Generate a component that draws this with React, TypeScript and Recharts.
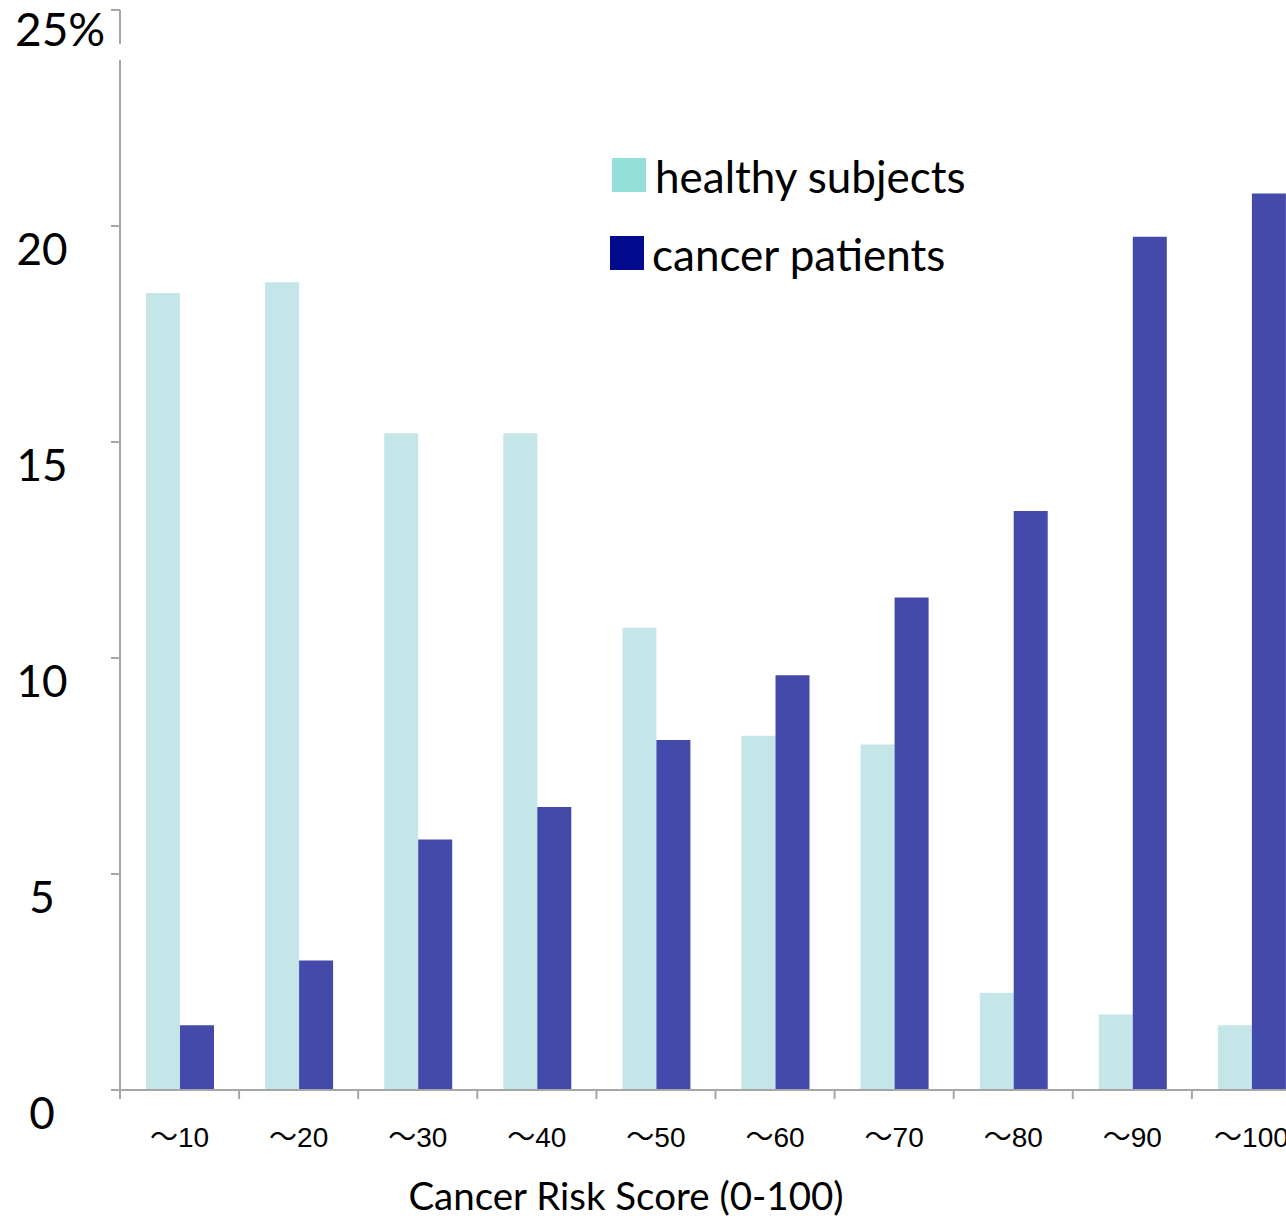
import React from 'react';
import { BarChart, Bar, XAxis, YAxis, Legend } from 'recharts';

const categories = ['～10', '～20', '～30', '～40', '～50', '～60', '～70', '～80', '～90', '～100'];
const healthySubjects = [18.45, 18.7, 15.2, 15.2, 10.7, 8.2, 8.0, 2.25, 1.75, 1.5];
const cancerPatients = [1.5, 3.0, 5.8, 6.55, 8.1, 9.6, 11.4, 13.4, 19.75, 20.75];
const yTicks = [0, 5, 10, 15, 20, 25];
const legendItems = [
  { label: 'healthy subjects', color: '#93e0da' },
  { label: 'cancer patients', color: '#020a8e' },
];
const xTitle = 'Cancer Risk Score (0-100)';

const data = categories.map((c, i) => ({
  category: c,
  healthy: healthySubjects[i],
  cancer: cancerPatients[i],
}));

const AXIS = '#a6a6a6';
const LEFT = 120;
const CHART_W = 1311;
const BAND = (CHART_W - LEFT) / categories.length;
const TEXT_FONT = 'Lato, "Open Sans", sans-serif';

const YTick = (props: any) => {
  const { y, payload } = props;
  const v = payload.value;
  if (v === 25) {
    return (
      <g>
        <rect x={114} y={y + 34} width={12} height={16} fill="#fff" />
        <text x={15} y={y + 18} dominantBaseline="central" fontFamily={TEXT_FONT} fontSize={46} fill="#000">
          25%
        </text>
      </g>
    );
  }
  return (
    <text x={42} y={y + 22} textAnchor="middle" dominantBaseline="central" fontFamily={TEXT_FONT} fontSize={44} fill="#000">
      {v}
    </text>
  );
};

const XTick = (props: any) => {
  const { x, payload } = props;
  const bx = x - BAND / 2;
  return (
    <g>
      <line x1={bx} x2={bx} y1={1090} y2={1099} stroke={AXIS} strokeWidth={2} />
      <text
        x={x}
        y={1137}
        textAnchor="middle"
        dominantBaseline="central"
        fontFamily='"Liberation Sans", "Noto Sans CJK JP", sans-serif'
        fontSize={28}
        fill="#000"
      >
        {payload.value}
      </text>
    </g>
  );
};

const LegendContent = () => (
  <div style={{ fontFamily: TEXT_FONT, fontSize: 44, color: '#000' }}>
    {legendItems.map((it, i) => (
      <div key={it.label} style={{ display: 'flex', alignItems: 'center', height: 78, marginLeft: i === 0 ? 2 : 0 }}>
        <div style={{ width: 34, height: 34, background: it.color, marginRight: i === 0 ? 9 : 8 }} />
        <span style={{ lineHeight: '44px', position: 'relative', top: 1 }}>{it.label}</span>
      </div>
    ))}
  </div>
);

const XTitle = () => (
  <text x={626} y={1195} textAnchor="middle" dominantBaseline="central" fontFamily={TEXT_FONT} fontSize={38.5} fill="#000">
    {xTitle}
  </text>
);

export default function App() {
  return (
    <div style={{ position: 'absolute', left: 0, top: 0, width: 1286, height: 1216, overflow: 'hidden', background: '#fff' }}>
      <BarChart
        width={CHART_W}
        height={1216}
        data={data}
        margin={{ top: 10, right: 0, bottom: 0, left: 0 }}
        barSize={34}
        barGap={0}
      >
        <XAxis
          dataKey="category"
          height={126}
          axisLine={{ stroke: AXIS, strokeWidth: 2 }}
          tickLine={false}
          tick={<XTick />}
          interval={0}
          label={{ content: () => <XTitle /> }}
        />
        <YAxis
          width={LEFT}
          domain={[0, 25]}
          ticks={yTicks}
          interval={0}
          axisLine={{ stroke: AXIS, strokeWidth: 2 }}
          tickLine={{ stroke: AXIS, strokeWidth: 2 }}
          tickSize={9}
          tick={<YTick />}
        />
        <Legend
          layout="horizontal"
          verticalAlign="middle"
          align="center"
          wrapperStyle={{ left: 610, top: 136, width: 420 }}
          content={() => <LegendContent />}
        />
        <Bar dataKey="healthy" fill="#c5e6e8" isAnimationActive={false} />
        <Bar dataKey="cancer" fill="#444aaa" isAnimationActive={false} />
      </BarChart>
    </div>
  );
}
